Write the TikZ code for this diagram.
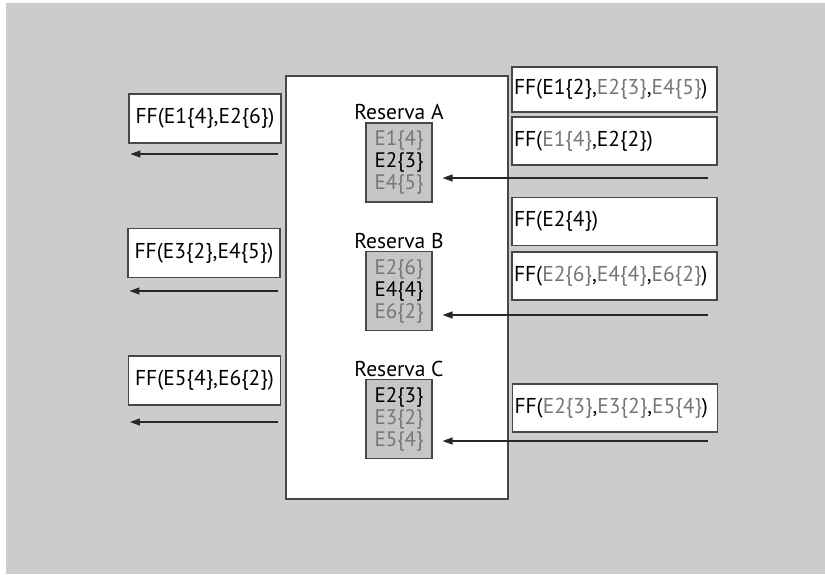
\documentclass[tikz,border=0pt]{standalone}
\usepackage{fontspec}
\setmainfont{PT Sans}
\usetikzlibrary{arrows.meta,positioning}
\definecolor{bggray}{RGB}{204,204,204}
\definecolor{edgegray}{RGB}{72,72,72}
\definecolor{arrowgray}{RGB}{40,40,40}
\definecolor{dimtext}{RGB}{118,118,118}
\definecolor{cellgray}{RGB}{198,198,198}
\newcommand{\dm}[1]{\textcolor{dimtext}{#1}}

\begin{document}
\begin{tikzpicture}[x=1pt, y=-1pt,
  mainbox/.style={draw=edgegray, line width=1.3pt, fill=white,
                  minimum width=222pt, minimum height=423pt},
  outbox/.style={draw=edgegray, line width=1.1pt, fill=white,
                 minimum width=152pt, minimum height=49pt, inner sep=1pt,
                 font=\fontsize{21.5}{24}\selectfont},
  inbox/.style={draw=edgegray, line width=1.1pt, fill=white,
                minimum height=48pt, text width=201pt, align=left,
                inner xsep=2pt, font=\fontsize{21.5}{24}\selectfont},
  cell/.style={draw=edgegray, line width=1.1pt, fill=cellgray,
               minimum width=66pt, minimum height=79pt, align=center,
               inner sep=1pt, font=\fontsize{21}{22}\selectfont},
  rlbl/.style={font=\fontsize{21.5}{24}\selectfont, inner sep=1pt},
  arr/.style={-{Triangle[length=10pt,width=7pt]}, arrowgray, line width=1.2pt},
]
\fill[bggray] (6,3) rectangle (825,574);
\useasboundingbox (0,0) rectangle (825,574);

% central store with its three reserves
\node[mainbox] (main) at (397,287.5) {};
\node[cell] (resA) at (399,162.5) {\dm{E1\{4\}}\\E2\{3\}\\\dm{E4\{5\}}};
\node[cell] (resB) at (399,291) {\dm{E2\{6\}}\\E4\{4\}\\\dm{E6\{2\}}};
\node[cell] (resC) at (399,419) {E2\{3\}\\\dm{E3\{2\}}\\\dm{E5\{4\}}};
\node[rlbl, above=1pt of resA] (lblA) {Reserva A};
\node[rlbl, above=1pt of resB] (lblB) {Reserva B};
\node[rlbl, above=1pt of resC] (lblC) {Reserva C};

% outgoing messages (left)
\node[outbox] (ffA) at (205,118.5) {FF(E1\{4\},E2\{6\})};
\node[outbox] (ffB) at (204,253) {FF(E3\{2\},E4\{5\})};
\node[outbox] (ffC) at (204.5,380.5) {FF(E5\{4\},E6\{2\})};

% incoming messages (right)
\node[inbox, minimum height=45pt] (inA1) at (614.5,89.5) {FF(E1\{2\},\dm{E2\{3\}},\dm{E4\{5\}})};
\node[inbox] (inA2) at (614.5,141) {FF(\dm{E1\{4\}},E2\{2\})};
\node[inbox] (inB1) at (614.5,221.5) {FF(E2\{4\})};
\node[inbox] (inB2) at (614.5,276) {FF(\dm{E2\{6\}},\dm{E4\{4\}},\dm{E6\{2\}})};
\node[inbox] (inC1) at (615,408) {FF(\dm{E2\{3\}},\dm{E3\{2\}},\dm{E5\{4\}})};

% arrow end points
\coordinate (srcA) at (708,178);
\coordinate (srcB) at (708,315);
\coordinate (srcC) at (708,441);
\coordinate (outA) at (278,154);
\coordinate (outB) at (278,291);
\coordinate (outC) at (278,422);

\draw[arr, shorten >=10pt] (srcA) -- (srcA -| resA.east);
\draw[arr, shorten >=10pt] (srcB) -- (srcB -| resB.east);
\draw[arr, shorten >=10pt] (srcC) -- (srcC -| resC.east);
\draw[arr, shorten >=2pt] (outA) -- (outA -| ffA.west);
\draw[arr, shorten >=2pt] (outB) -- (outB -| ffB.west);
\draw[arr, shorten >=2pt] (outC) -- (outC -| ffC.west);
\end{tikzpicture}
\end{document}
